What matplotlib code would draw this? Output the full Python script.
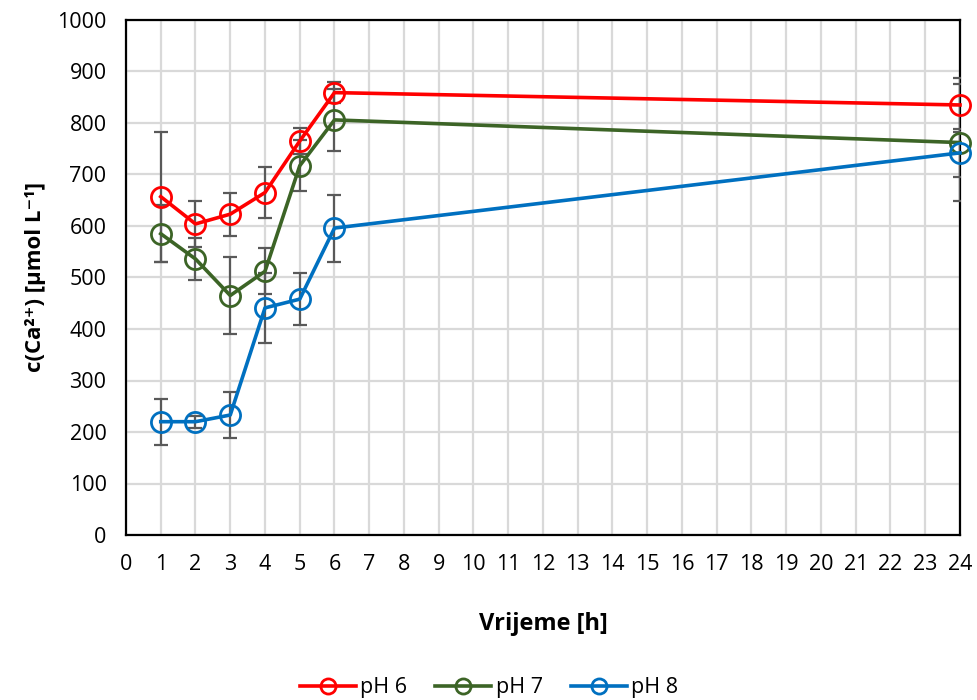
import matplotlib
matplotlib.use("Agg")
import matplotlib.pyplot as plt
import numpy as np

plt.rcParams['font.family'] = ['Open Sans', 'DejaVu Sans']

time_h = [1, 2, 3, 4, 5, 6, 24]
ph6 = [657, 604, 623, 665, 765, 859, 835]
ph6_err = [126, 45, 42, 49, 25, 20, 53]
ph7 = [585, 536, 465, 512, 717, 806, 762]
ph7_err = [55, 40, 74, 45, 50, 60, 113]
ph8 = [220, 220, 233, 441, 458, 596, 742]
ph8_err = [45, 12, 45, 68, 51, 65, 46]

series = [("pH 6", ph6, ph6_err, "#FF0000"),
          ("pH 7", ph7, ph7_err, "#3C6426"),
          ("pH 8", ph8, ph8_err, "#0070C0")]

fig = plt.figure(figsize=(9.78, 7.0), dpi=100)
ax = fig.add_axes([126/978, 1-535/700, (960-126)/978, (535-20)/700])

for name, vals, err, col in series:
    ax.errorbar(time_h, vals, yerr=err, fmt='none', ecolor='#595959',
                elinewidth=1.6, capsize=5, capthick=1.6, zorder=3)
for name, vals, err, col in series:
    ax.plot(time_h, vals, '-o', color=col, lw=2.6, markersize=14.5,
            markerfacecolor='none', markeredgewidth=2.0, label=name,
            zorder=4, clip_on=False)

ax.set_xlim(0, 24)
ax.set_ylim(0, 1000)
ax.set_xticks(np.arange(0, 25, 1))
ax.set_yticks(np.arange(0, 1001, 100))
ax.grid(True, color='#D9D9D9', lw=1.6, zorder=0)
ax.set_axisbelow(True)
ax.tick_params(length=0, labelsize=15.5, colors='#000000')
ax.tick_params(axis='x', pad=14)
ax.tick_params(axis='y', pad=14)
for s in ax.spines.values():
    s.set_color('black')
    s.set_linewidth(1.6)

ax.set_xlabel('Vrijeme [h]', fontsize=17, fontweight='bold', labelpad=26)
ax.set_ylabel('c(Ca²⁺) [µmol L⁻¹]', fontsize=16,
              fontweight='bold', labelpad=8)

fig.legend(loc='center', bbox_to_anchor=(0.5, 1-688/700), ncol=3, frameon=False,
           fontsize=15.5, handlelength=2.6, columnspacing=1.3, handletextpad=0.2,
           markerscale=0.75)

fig.savefig('out.png', dpi=100)
